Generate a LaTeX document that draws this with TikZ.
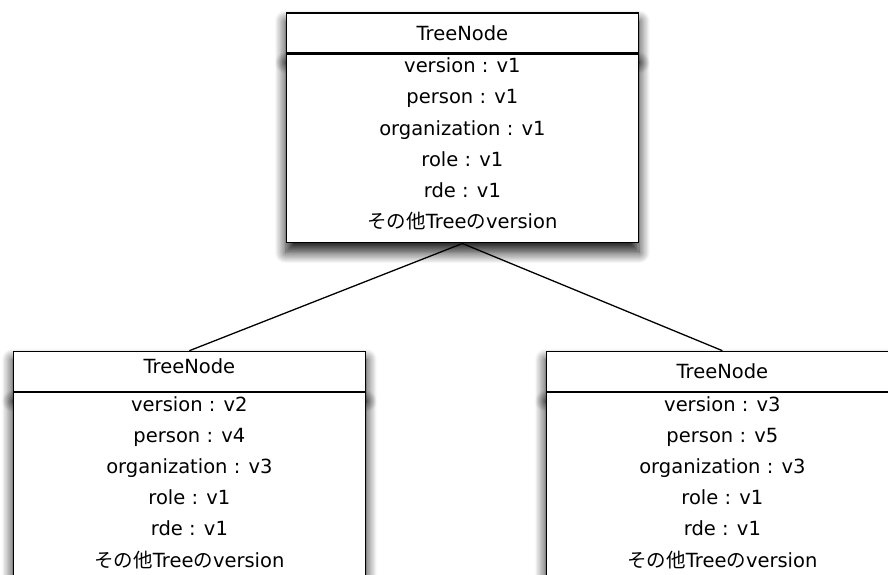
\documentclass[tikz,border=0pt]{standalone}
\usepackage{fontspec}
\setmainfont{DejaVu Sans}
\newfontfamily\cjk{Noto Sans CJK JP}
\usetikzlibrary{shadows.blur}
\pgfdeclarelayer{background}
\pgfsetlayers{background,main}

\tikzset{
  x=1pt, y=1pt,
  compartment/.style={draw=black, line width=1.4pt, fill=white, rectangle,
    minimum width=352pt, inner sep=0pt, anchor=north west},
  titlebox/.style={compartment, minimum height=40pt},
  bodybox/.style={compartment, minimum height=188.4pt},
  soft shadow/.style={blur shadow={shadow xshift=0pt, shadow yshift=-9pt,
    shadow blur radius=11pt, shadow blur steps=14, shadow opacity=90}},
  label/.style={anchor=base, inner sep=0pt, font=\fontsize{19.5}{23}\selectfont},
  link/.style={draw=black, line width=1.3pt}
}

% one class box: name, left x, top y, title baseline offset, six rows
\newcommand{\classbox}[9]{%
  \node[titlebox] (#1t) at (#2,#3) {};
  \node[bodybox] (#1b) at (#1t.south west) {};
  \begin{pgfonlayer}{background}
    \path[soft shadow] (#1t.north west) rectangle (#1t.south east);
    \path[soft shadow] (#1b.north west) rectangle (#1b.south east);
  \end{pgfonlayer}
  \node[label] (#1name) at ([yshift=-#4pt]#1t.north) {TreeNode};
  \node[label] (#1r1) at ([yshift=-19pt]#1b.north) {#5};
  \node[label] (#1r2) at ([yshift=-31.2pt]#1r1.base) {#6};
  \node[label] (#1r3) at ([yshift=-31.2pt]#1r2.base) {#7};
  \node[label] (#1r4) at ([yshift=-31.2pt]#1r3.base) {#8};
  \node[label] (#1r5) at ([yshift=-31.2pt]#1r4.base) {rde : v1};
  \node[label] (#1r6) at ([yshift=-31.2pt]#1r5.base) {#9};
}

\begin{document}
\begin{tikzpicture}
  \useasboundingbox (0,0) rectangle (888,575);
  \clip (0,0) rectangle (888,575);

  \classbox{root}{285.7}{562.7}{28.4}{version : v1}{person : v1}{organization : v1}{role : v1}{{\cjk その他}Tree{\cjk の}version}
  \classbox{left}{12.7}{224.3}{22.8}{version : v2}{person : v4}{organization : v3}{role : v1}{{\cjk その他}Tree{\cjk の}version}
  \classbox{right}{545.7}{224.3}{27.6}{version : v3}{person : v5}{organization : v3}{role : v1}{{\cjk その他}Tree{\cjk の}version}

  % parent-child links
  \draw[link] (rootb.south) -- (leftt.north);
  \draw[link] (rootb.south) -- (rightt.north);
\end{tikzpicture}
\end{document}
